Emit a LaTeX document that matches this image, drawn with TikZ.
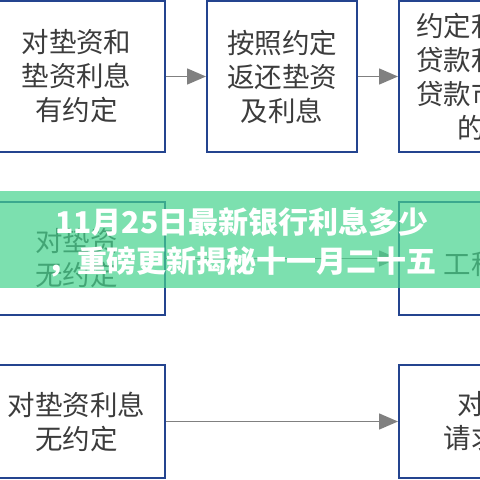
\documentclass[tikz,border=0pt]{standalone}
\usepackage{fontspec}
\setmainfont{Noto Sans CJK SC}
\usetikzlibrary{arrows.meta}
\definecolor{boxblue}{HTML}{24448F}
\definecolor{txt}{HTML}{3C3C3C}
\definecolor{arrgray}{HTML}{808080}
\definecolor{banner}{HTML}{45D38E}
\tikzset{
  box/.style={draw=boxblue, line width=2pt, text=txt, align=center, inner sep=0pt,
    font=\fontsize{27.5}{34}\selectfont},
  lcol/.style={box, minimum width=177pt},
  mcol/.style={box, minimum width=150pt},
  rcol/.style={box, minimum width=172pt},
  tall/.style={minimum height=151pt},
  short/.style={minimum height=113pt},
  arr/.style={draw=arrgray, line width=1.5pt, -{Triangle[length=19pt,width=16pt,fill=arrgray]}},
  bannertext/.style={text=white, align=center, inner sep=0pt,
    font=\fontsize{30}{39}\selectfont\bfseries}
}
\begin{document}
\begin{tikzpicture}[x=1pt,y=-1pt]
\useasboundingbox (0,0) rectangle (480,480);
\clip (0,0) rectangle (480,480);
\fill[white] (0,0) rectangle (480,480);
\node[lcol,tall] (A) at (76.5,76.5) {对垫资和\\垫资利息\\有约定};
\node[mcol,tall] (B) at (282,76.5) {按照约定\\返还垫资\\及利息};
\node[rcol,tall] (C) at (485,76.5) {约定利率高\\贷款利率超\\贷款市场报\\的部};
\node[lcol,short] (D) at (76.5,258.5) {对垫资\\无约定};
\node[rcol,short] (E) at (485,258.5) {\mbox{}\\工程款};
\node[lcol,short] (F) at (76.5,421.5) {对垫资利息\\无约定};
\node[rcol,short] (G) at (485,421.5) {对方\\请求权};
\draw[arr] (A.east) -- (B.west);
\draw[arr] (B.east) -- (C.west);
\draw[arr] (D.east) -- (E.west);
\draw[arr] (F.east) -- (G.west);
\fill[banner, opacity=0.7] (-5,191) rectangle (485,288);
\node[bannertext] (T) at (242,242.5) {11月25日最新银行利息多少\\，重磅更新揭秘十一月二十五};
\end{tikzpicture}
\end{document}
